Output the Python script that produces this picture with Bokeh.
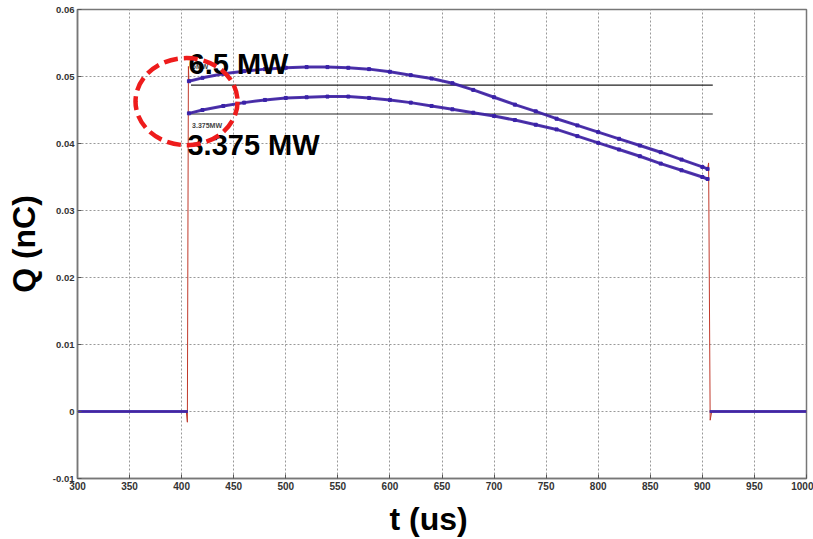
from bokeh.plotting import figure
from bokeh.models import FixedTicker, Range1d
from bokeh.core.properties import value
from bokeh.embed import file_html
from bokeh.resources import INLINE

# Time axis (us) and charge (nC) for the two RF power levels
t_pulse = [407, 420, 440, 460, 480, 500, 520, 540, 560, 580, 600, 620, 640,
           660, 680, 700, 720, 740, 760, 780, 800, 820, 840, 860, 880, 900, 905]
q_6mw = [0.0493, 0.0498, 0.0504, 0.0508, 0.0511, 0.0513, 0.0514, 0.0514, 0.0513,
         0.0511, 0.0507, 0.0502, 0.0497, 0.0490, 0.0480, 0.0469, 0.0458, 0.0448,
         0.0437, 0.0427, 0.0417, 0.0407, 0.0397, 0.0387, 0.0376, 0.0365, 0.0362]
q_3mw = [0.0445, 0.0450, 0.0456, 0.0461, 0.0465, 0.0468, 0.0469, 0.0470, 0.0470,
         0.0468, 0.0465, 0.0461, 0.0456, 0.0451, 0.0446, 0.0441, 0.0435, 0.0428,
         0.0421, 0.0411, 0.0401, 0.0391, 0.0381, 0.0370, 0.0360, 0.0350, 0.0347]

# Baseline before and after the pulse
t_pre = [300, 406]
q_pre = [0.0, 0.0]
t_post = [907, 1000]
q_post = [0.0, 0.0]

# Pulse edges of the fitted trace
t_rise = [300, 404.5, 405.5, 406.5, 407]
q_rise = [0.0, 0.0, -0.0016, 0.0515, 0.0493]
t_fall = [905, 906, 907.5, 909, 1000]
q_fall = [0.0362, 0.0371, -0.0013, 0.0, 0.0]

# Flat reference levels at the start of the pulse
ref_t = [409, 910]
ref_6mw = 0.0487
ref_3mw = 0.0444

x_ticks = [300, 350, 400, 450, 500, 550, 600, 650, 700, 750, 800, 850, 900, 950, 1000]
y_ticks = [-0.01, 0.0, 0.01, 0.02, 0.03, 0.04, 0.05, 0.06]
y_tick_labels = {-0.01: "-0.01", 0.0: "0", 0.01: "0.01", 0.02: "0.02",
                 0.03: "0.03", 0.04: "0.04", 0.05: "0.05", 0.06: "0.06"}

FONT = "Liberation Sans"
BLUE = "#3a22a8"
RED = "#c0392b"

p = figure(width=813, height=539, output_backend="svg", toolbar_location=None,
           x_range=Range1d(300, 1000), y_range=Range1d(-0.01, 0.06),
           min_border_left=77, min_border_right=7, min_border_top=9,
           min_border_bottom=60)
p.background_fill_color = "white"
p.border_fill_color = "white"
p.outline_line_color = "#777777"
p.outline_line_width = 1.5

# Axes
p.xaxis.ticker = FixedTicker(ticks=x_ticks)
p.yaxis.ticker = FixedTicker(ticks=y_ticks)
p.yaxis.major_label_overrides = y_tick_labels
for ax in (p.xaxis, p.yaxis):
    ax.axis_line_color = "#777777"
    ax.axis_line_width = 1.5
    ax.major_tick_in = 4
    ax.major_tick_out = 0
    ax.minor_tick_line_color = None
    ax.major_tick_line_color = "#555555"
    ax.major_label_text_font = FONT
    ax.major_label_text_font_style = "bold"
    ax.major_label_text_color = "#333333"
    ax.axis_label_text_font = FONT
    ax.axis_label_text_font_style = "bold"
    ax.axis_label_text_color = "#000000"
    ax.axis_label_text_font_size = "32px"
p.xaxis.major_label_text_font_size = "10px"
p.yaxis.major_label_text_font_size = "9.5px"
p.xaxis.major_label_standoff = 3
p.yaxis.major_label_standoff = 3
# trailing no-break spaces nudge the label left of the frame centre
p.xaxis.axis_label = "t (us)" + "\u00a0" * 3
p.yaxis.axis_label = "Q (nC)"
p.xaxis.axis_label_standoff = 8
p.yaxis.axis_label_standoff = 8

# Dotted grid
for g in (p.xgrid, p.ygrid):
    g.grid_line_color = "#999999"
    g.grid_line_dash = "2 2"
    g.grid_line_width = 1

# Fitted trace (red, underneath)
p.line(t_rise, q_rise, color=RED, line_width=1)
p.line(t_fall, q_fall, color=RED, line_width=1)
p.line(t_pulse, q_6mw, color=RED, line_width=1)
p.line(t_pulse, q_3mw, color=RED, line_width=1)

# Flat reference lines
p.line(ref_t, [ref_6mw, ref_6mw], color="#222222", line_width=1.2)
p.line(ref_t, [ref_3mw, ref_3mw], color="#222222", line_width=1.2)

# Measured charge (blue)
for tt, qq in ((t_pulse, q_6mw), (t_pulse, q_3mw), (t_pre, q_pre), (t_post, q_post)):
    p.line(tt, qq, color=BLUE, line_width=3, alpha=0.9)
p.scatter(t_pulse, q_6mw, marker="square", size=3, color=BLUE)
p.scatter(t_pulse, q_3mw, marker="square", size=3, color=BLUE)

# Small in-plot legends
p.text(x=[410], y=[0.0509], text=["6MW"], text_font=value(FONT), text_font_size="7px",
       text_color="#444444", text_font_style="bold")
p.text(x=[410], y=[0.04215], text=["3.375MW"], text_font=value(FONT), text_font_size="7px",
       text_color="#444444", text_font_style="bold")

# Large power labels
p.text(x=[406.6], y=[0.0518], text=["6.5 MW"], text_font=value(FONT),
       text_font_size="29px", text_font_style="bold", text_color="black",
       text_baseline="alphabetic")
p.text(x=[405.6], y=[0.0398], text=["3.375 MW"], text_font=value(FONT),
       text_font_size="29px", text_font_style="bold", text_color="black",
       text_baseline="alphabetic")

# Dashed highlight around the pulse start
p.ellipse(x=[404.7], y=[0.04625], width=[98], height=[0.0130], fill_color=None,
          line_color="#ee1c1c", line_width=4.5, line_dash="14 6")

open("out.html", "w").write(file_html(p, INLINE))
